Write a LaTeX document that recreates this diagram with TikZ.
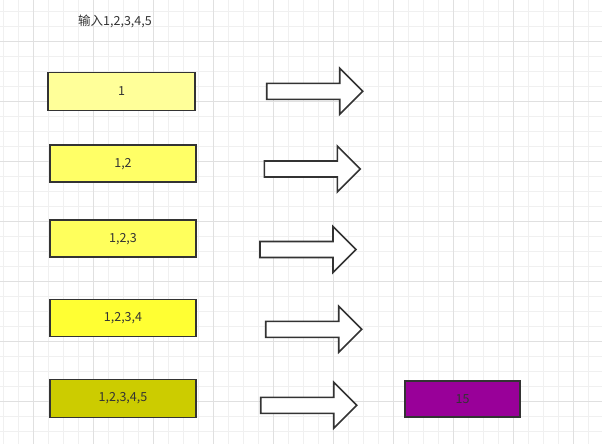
\documentclass[tikz,border=0pt]{standalone}
\usepackage{fontspec}
\setmainfont{Noto Sans CJK SC}
\definecolor{gridminor}{HTML}{F0F0F0}
\definecolor{gridmajor}{HTML}{E0E0E0}
\definecolor{ink}{HTML}{333333}
\definecolor{y1}{HTML}{FFFF99}
\definecolor{y2}{HTML}{FFFF66}
\definecolor{y3}{HTML}{FFFF5C}
\definecolor{y4}{HTML}{FFFF33}
\definecolor{y5}{HTML}{CCCC00}
\definecolor{purp}{HTML}{990099}
\begin{document}
\begin{tikzpicture}[x=1pt,y=-1pt,
  box/.style={draw=ink,line width=1.6pt,minimum width=146pt,minimum height=37pt,inner sep=0pt,text=ink,font=\fontsize{12.5}{14}\selectfont},
  lbl/.style={text=ink,font=\fontsize{12.5}{14}\selectfont,inner sep=0pt},
  bigarrow/.pic={\draw[draw=ink,line width=1.6pt,fill=white,line join=miter]
     (0,-8) -- (73,-8) -- (73,-23) -- (96,0) -- (73,23) -- (73,8) -- (0,8) -- cycle;}
]
\useasboundingbox (0,0) rectangle (602,444);
\fill[white] (0,0) rectangle (602,444);
% minor grid
\foreach \i in {0,...,40} {\draw[gridminor,line width=1pt] (3.3+15*\i,0) -- (3.3+15*\i,444);}
\foreach \j in {0,...,29} {\draw[gridminor,line width=1pt] (0,11.7+15*\j) -- (602,11.7+15*\j);}
% major grid
\foreach \i in {0,...,9} {\draw[gridmajor,line width=1pt] (33.3+60*\i,0) -- (33.3+60*\i,444);}
\foreach \j in {0,...,6} {\draw[gridmajor,line width=1pt] (0,41.7+60*\j) -- (602,41.7+60*\j);}

\node[lbl] (title) at (115,21) {输入1,2,3,4,5};

\node[box,fill=y1,minimum width=147pt,minimum height=38pt] (b1) at (121.5,91.5) {1};
\node[box,fill=y2] (b2) at (123,163.7) {1,2};
\node[box,fill=y3] (b3) at (123,238.7) {1,2,3};
\node[box,fill=y4] (b4) at (123,318) {1,2,3,4};
\node[box,fill=y5,minimum height=38pt] (b5) at (123,398.5) {1,2,3,4,5};
\node[box,fill=purp,minimum width=115pt,minimum height=36pt] (res) at (462.5,398.7) {15};

\pic (a1) at (266.7,91.3) {bigarrow};
\pic (a2) at (264.3,169) {bigarrow};
\pic (a3) at (260,249.5) {bigarrow};
\pic (a4) at (265.7,329.3) {bigarrow};
\pic (a5) at (260.7,405.3) {bigarrow};
\end{tikzpicture}
\end{document}
